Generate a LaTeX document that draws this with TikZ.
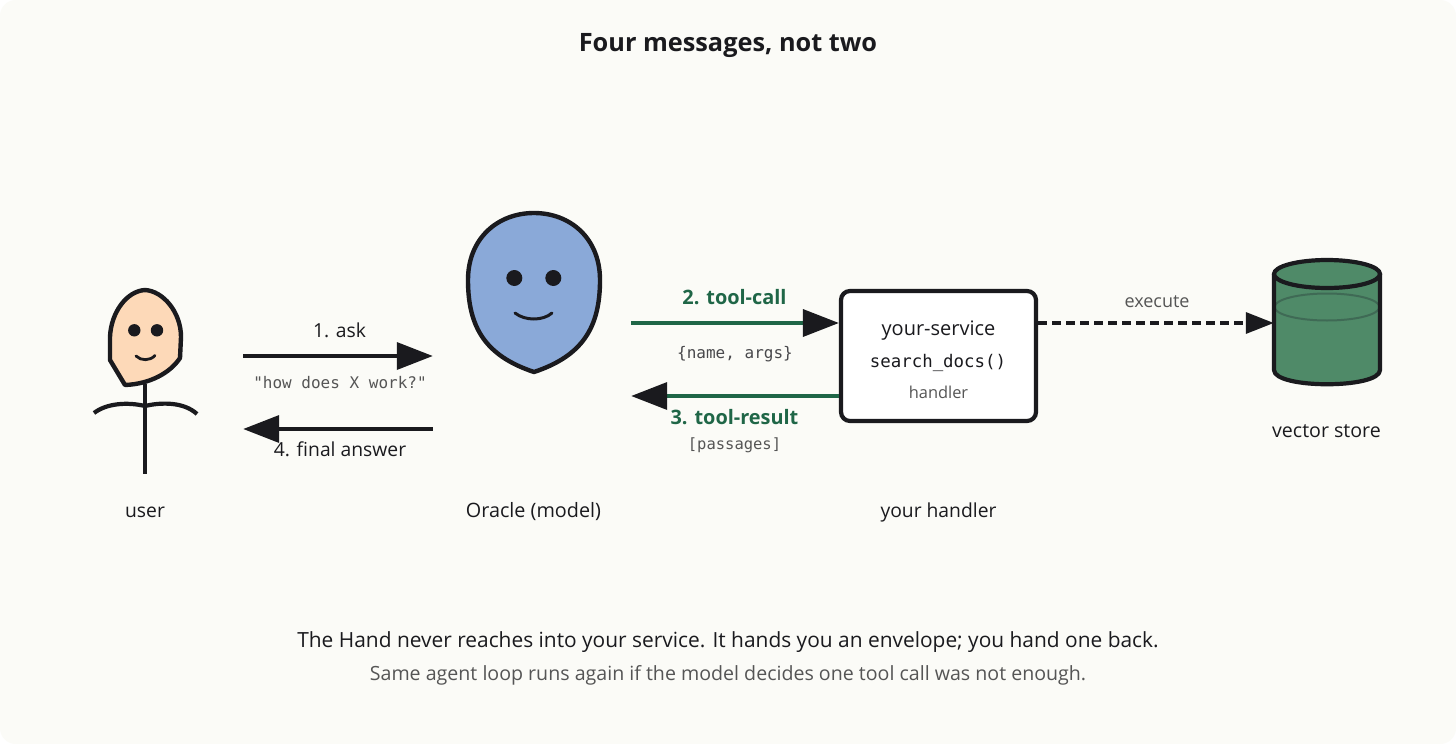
\documentclass[tikz,border=0pt]{standalone}
\usepackage{fontspec}
\setmainfont{Open Sans}
\newfontfamily\monof{DejaVu Sans Mono}
\usetikzlibrary{arrows.meta,shapes.geometric}
\definecolor{ink}{HTML}{1A1A1E}
\definecolor{paper}{HTML}{FBFBF7}
\definecolor{grayt}{HTML}{555555}
\definecolor{greent}{HTML}{1F6647}
\definecolor{skin}{HTML}{FDD9B8}
\definecolor{bluef}{HTML}{8AA9D8}
\definecolor{storef}{HTML}{4F8A68}
\definecolor{storel}{HTML}{3F6A55}
\tikzset{
  x=1pt,y=-1pt,
  lbl/.style={inner sep=0pt,text=ink,font=\fontsize{19.3}{22}\selectfont},
  sublbl/.style={inner sep=0pt,text=grayt,font=\fontsize{16.6}{20}\selectfont},
  monolbl/.style={inner sep=0pt,text=grayt,font=\monof\fontsize{16}{19}\selectfont},
  greenlbl/.style={inner sep=0pt,text=greent,font=\bfseries\fontsize{19.9}{23}\selectfont},
  region/.style={inner sep=0pt,minimum width=#1},
  outline/.style={draw=ink,line width=4.4pt,line join=round,line cap=round},
  blackarrow/.style={draw=ink,line width=3.6pt,-{Triangle[length=36pt,width=27pt,color=ink,fill=ink]}},
  greenarrow/.style={draw=greent,line width=3.6pt,-{Triangle[length=36pt,width=27pt,color=ink,fill=ink]}},
}
\begin{document}
\begin{tikzpicture}
\useasboundingbox (0,0) rectangle (1456,744);
\fill[white] (0,0) rectangle (1456,744);
\fill[paper,rounded corners=16pt] (0,0) rectangle (1456,744);
% regions used as connector anchors
\node[region=149pt,minimum height=190pt] (user) at (168.5,382) {};
\node[region=198pt,minimum height=160pt] (oracle) at (532,292) {};
\node[region=105pt,minimum height=124pt] (store) at (1326.5,322) {};
% title
\node[inner sep=0pt,text=ink,font=\bfseries\fontsize{25.3}{30}\selectfont] (title) at (728,46) {Four messages, not two};
% user
\draw[ink,line width=4.2pt] (145,384) -- (145,474);
\draw[ink,line width=4.2pt] (94,413) .. controls (107,403) and (128,402) .. (145,406) .. controls (162,402) and (184,402) .. (197,414);
\path[outline,fill=skin] (145,290) .. controls (163,291) and (181,312) .. (181,337)
  -- (180,358) .. controls (170,373) and (150,384) .. (125,385)
  -- (110,360) -- (110,337) .. controls (111,312) and (127,291) .. (145,290) -- cycle;
\fill[ink] (134.3,330.3) circle (6.2) (157,330.3) circle (6.2);
\draw[ink,line width=2.8pt,line cap=round] (136,356) .. controls (141,361) and (150,361) .. (155,355.5);
% oracle
\path[outline,fill=bluef] (534,213) .. controls (570,213) and (600,238) .. (600,280)
  .. controls (600,328) and (582,356) .. (534,372)
  .. controls (486,356) and (468,328) .. (468,280)
  .. controls (468,238) and (498,213) .. (534,213) -- cycle;
\fill[ink] (514.3,278) circle (8) (553.3,278) circle (8);
\draw[ink,line width=3pt,line cap=round] (515,313) .. controls (525,321) and (543,321) .. (552,313);
% handler
\node[draw=ink,line width=4.2pt,fill=white,rounded corners=9pt,minimum width=195pt,minimum height=130pt,inner sep=0pt] (handler) at (938.5,356) {};
\node[lbl,font=\fontsize{20}{23}\selectfont] (svc) at (938.5,331) {your-service};
\node[inner sep=0pt,text=ink,font=\monof\fontsize{17.4}{20}\selectfont] (fn) at (938,363) {search\_docs()};
\node[sublbl,font=\fontsize{16.4}{19}\selectfont] (hnd) at (938.5,392) {handler};
% store
\fill[storef] (1274,274) -- (1274,370) .. controls (1274,390) and (1380,390) .. (1380,370) -- (1380,274) -- cycle;
\draw[storel,line width=2pt] (1327,307) ellipse (52.5 and 13.5);
\draw[ink,line width=4.2pt,line join=round] (1274,274) -- (1274,370) .. controls (1274,389) and (1380,389) .. (1380,370) -- (1380,274);
\draw[ink,line width=4.2pt,fill=storef] (1327,274) ellipse (53 and 14);
% connectors
\coordinate (rowA) at (0,356);
\coordinate (rowB) at (0,429);
\coordinate (rowC) at (0,323);
\coordinate (rowD) at (0,396);
\draw[blackarrow] (user.east |- rowA) -- (oracle.west |- rowA);
\draw[blackarrow] (oracle.west |- rowB) -- (user.east |- rowB);
\draw[greenarrow] (oracle.east |- rowC) -- (handler.west |- rowC);
\draw[greenarrow] (handler.west |- rowD) -- (oracle.east |- rowD);
\draw[draw=ink,line width=3.4pt,dash pattern=on 9pt off 5pt,-{Triangle[length=28pt,width=21pt,color=ink,fill=ink]}] (handler.east |- rowC) -- (store.west |- rowC);
% labels
\node[lbl] (l1) at (339.5,330) {1. ask};
\node[monolbl] (l1b) at (340,383) {"how does X work?"};
\node[lbl] (l4) at (340,449.5) {4. final answer};
\node[greenlbl] (l2) at (734.5,297.5) {2. tool-call};
\node[monolbl,text=ink!80] (l2b) at (735,354) {\{name, args\}};
\node[greenlbl] (l3) at (734.5,417.5) {3. tool-result};
\node[monolbl,font=\monof\fontsize{15.5}{18}\selectfont] (l3b) at (734.5,445) {[passages]};
\node[sublbl,font=\fontsize{18}{21}\selectfont] (l5) at (1157,302) {execute};
\node[lbl] (nu) at (145,512) {user};
\node[lbl,font=\fontsize{19.8}{23}\selectfont] (no) at (533.5,512) {Oracle (model)};
\node[lbl] (nh) at (938.5,512) {your handler};
\node[lbl,font=\fontsize{19.6}{23}\selectfont] (ns) at (1326.5,431) {vector store};
\node[inner sep=0pt,text=ink,font=\fontsize{20.9}{25}\selectfont] (f1) at (728,642) {The Hand never reaches into your service. It hands you an envelope; you hand one back.};
\node[inner sep=0pt,text=grayt,font=\fontsize{19.6}{23}\selectfont] (f2) at (728,675) {Same agent loop runs again if the model decides one tool call was not enough.};
\end{tikzpicture}
\end{document}
